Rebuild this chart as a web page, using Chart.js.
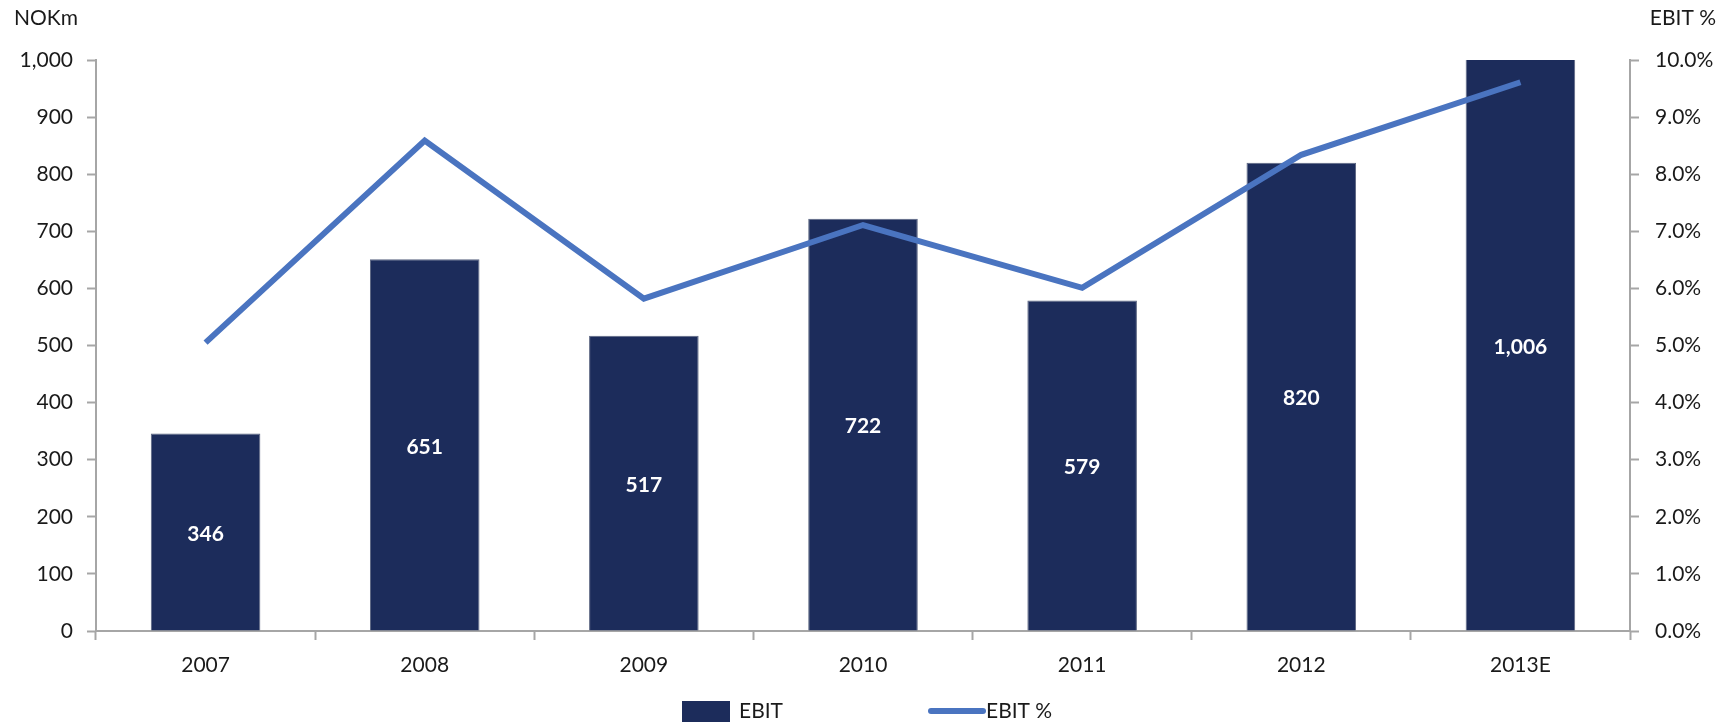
<!doctype html>
<html lang="en">
    <head>
        <meta charset="UTF-8" />
        <title>EBIT and EBIT %</title>
        <script src="https://cdn.jsdelivr.net/npm/chart.js"></script>
        <style>
            html, body { margin: 0; padding: 0; background: #fff; }
            #wrap { width: 1723px; height: 722px; }
        </style>
    </head>
    <body>
        <div id="wrap"><canvas id="ebitChart"></canvas></div>
        <script>
            var years = ["2007", "2008", "2009", "2010", "2011", "2012", "2013E"];
            var ebit = [346, 651, 517, 722, 579, 820, 1006];
            var ebitPct = [5.05, 8.59, 5.82, 7.11, 6.01, 8.34, 9.61];
            var leftTitle = "NOKm";
            var rightTitle = "EBIT %";

            var fontFamily = "Lato, 'Open Sans', sans-serif";
            var barColor = "#1c2c5b";
            var lineColor = "#4a74c0";
            var axisColor = "#a6a6a6";
            var textColor = "#1a1a1a";

            // white value labels in the middle of the visible part of each bar
            var barLabels = {
                id: "barLabels",
                afterDatasetsDraw: function (chart) {
                    var ctx = chart.ctx;
                    var area = chart.chartArea;
                    var meta = chart.getDatasetMeta(0);
                    ctx.save();
                    ctx.fillStyle = "#ffffff";
                    ctx.font = "bold 21px " + fontFamily;
                    ctx.textAlign = "center";
                    ctx.textBaseline = "middle";
                    meta.data.forEach(function (bar, i) {
                        var top = Math.max(bar.y, area.top);
                        var y = (top + bar.base) / 2;
                        ctx.fillText(ebit[i].toLocaleString("en-US"), bar.x, y + 2);
                    });
                    ctx.restore();
                }
            };

            // axis titles and the legend under the chart
            var extras = {
                id: "extras",
                afterDraw: function (chart) {
                    var ctx = chart.ctx;
                    ctx.save();
                    ctx.fillStyle = textColor;
                    ctx.font = "21px " + fontFamily;
                    ctx.textBaseline = "middle";
                    ctx.textAlign = "left";
                    ctx.fillText(leftTitle, 14, 18);
                    ctx.textAlign = "right";
                    ctx.fillText(rightTitle, 1716, 18);

                    // legend
                    ctx.textAlign = "left";
                    ctx.fillStyle = barColor;
                    ctx.fillRect(682, 701, 48, 21);
                    ctx.fillStyle = textColor;
                    ctx.fillText(chart.data.datasets[0].label, 739, 711);
                    ctx.strokeStyle = lineColor;
                    ctx.lineWidth = 6;
                    ctx.lineCap = "round";
                    ctx.beginPath();
                    ctx.moveTo(931, 711);
                    ctx.lineTo(983, 711);
                    ctx.stroke();
                    ctx.fillText(chart.data.datasets[1].label, 986, 711);
                    ctx.restore();
                }
            };

            var ctx = document.getElementById("ebitChart").getContext("2d");
            var chart = new Chart(ctx, {
                data: {
                    labels: years,
                    datasets: [
                        {
                            type: "bar",
                            label: "EBIT",
                            data: ebit,
                            yAxisID: "y",
                            backgroundColor: barColor,
                            borderColor: "#5a6480",
                            borderWidth: 1,
                            barPercentage: 0.5,
                            categoryPercentage: 1,
                            clip: 0,
                            order: 2
                        },
                        {
                            type: "line",
                            label: "EBIT %",
                            data: ebitPct,
                            yAxisID: "y1",
                            borderColor: lineColor,
                            borderWidth: 6,
                            pointRadius: 0,
                            tension: 0,
                            order: 1
                        }
                    ]
                },
                plugins: [barLabels, extras],
                options: {
                    responsive: true,
                    maintainAspectRatio: false,
                    animation: false,
                    layout: {
                        padding: { top: 60, bottom: 31, left: 0, right: 0 }
                    },
                    plugins: {
                        legend: { display: false },
                        tooltip: { enabled: false }
                    },
                    scales: {
                        x: {
                            grid: {
                                offset: true,
                                drawOnChartArea: false,
                                drawTicks: true,
                                tickLength: 9,
                                tickColor: axisColor,
                                tickWidth: 2
                            },
                            border: { display: true, color: axisColor, width: 2 },
                            ticks: {
                                color: textColor,
                                font: { family: fontFamily, size: 21 },
                                padding: 13
                            },
                            afterFit: function (scale) {
                                scale.height = 60;
                            }
                        },
                        y: {
                            position: "left",
                            min: 0,
                            max: 1000,
                            ticks: {
                                stepSize: 100,
                                color: textColor,
                                font: { family: fontFamily, size: 21 },
                                padding: 14,
                                callback: function (v) {
                                    return v.toLocaleString("en-US");
                                }
                            },
                            grid: {
                                drawOnChartArea: false,
                                drawTicks: true,
                                tickLength: 9,
                                tickColor: axisColor,
                                tickWidth: 2
                            },
                            border: { display: true, color: axisColor, width: 2 },
                            afterFit: function (scale) {
                                scale.width = 96;
                            }
                        },
                        y1: {
                            position: "right",
                            min: 0,
                            max: 10,
                            ticks: {
                                stepSize: 1,
                                color: textColor,
                                font: { family: fontFamily, size: 21 },
                                padding: 16,
                                callback: function (v) {
                                    return v.toFixed(1) + "%";
                                }
                            },
                            grid: {
                                drawOnChartArea: false,
                                drawTicks: true,
                                tickLength: 9,
                                tickColor: axisColor,
                                tickWidth: 2
                            },
                            border: { display: true, color: axisColor, width: 2 },
                            afterFit: function (scale) {
                                scale.width = 93;
                            }
                        }
                    }
                }
            });
        </script>
    </body>
</html>
